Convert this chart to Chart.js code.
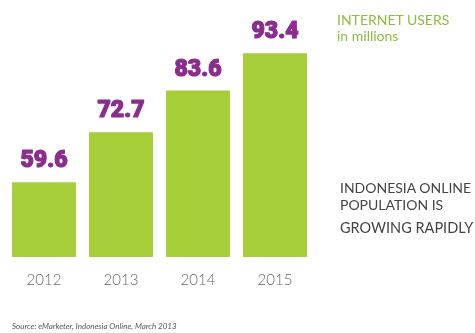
<!DOCTYPE html>
<html><head><meta charset="utf-8">
<script src="https://cdn.jsdelivr.net/npm/chart.js@4"></script>
<style>
html,body{margin:0;padding:0;background:#fff;}
#wrap{position:relative;width:475px;height:333px;overflow:hidden;}
canvas{position:absolute;left:0;top:0;}
.t{position:absolute;font-family:Lato,"Open Sans",sans-serif;white-space:nowrap;}
</style></head>
<body><div id="wrap">
<canvas id="c" width="475" height="333"></canvas>
<div class="t" style="left:337px;top:12px;font-size:14px;line-height:16px;color:#8cbd3f;">INTERNET USERS<br>in millions</div>
<div class="t" style="left:340px;top:180px;font-size:14px;line-height:16.5px;color:#444;">INDONESIA ONLINE<br>POPULATION IS</div>
<div class="t" style="left:340px;top:219px;font-size:14.5px;line-height:17px;color:#444;">GROWING RAPIDLY</div>
<div class="t" style="left:12px;top:321px;font-size:8px;font-style:italic;color:#555;">Source: eMarketer, Indonesia Online, March 2013</div>
</div>
<script>
const years = ["2012","2013","2014","2015"];
const users = [59.6, 72.7, 83.6, 93.4];
const valueLabels = ["59.6","72.7","83.6","93.4"];

const labelPlugin = {
  id:'vals',
  afterDatasetsDraw(chart){
    const ctx = chart.ctx;
    const meta = chart.getDatasetMeta(0);
    ctx.save();
    ctx.font = '900 23px Roboto, "DejaVu Sans", sans-serif';
    ctx.fillStyle = '#8b2d8f';
    ctx.strokeStyle = '#8b2d8f';
    ctx.lineWidth = 1.2;
    ctx.lineJoin = 'round';
    ctx.textAlign = 'center';
    ctx.textBaseline = 'alphabetic';
    meta.data.forEach((bar,i)=>{
      ctx.strokeText(valueLabels[i], bar.x, bar.y - 15);
      ctx.fillText(valueLabels[i], bar.x, bar.y - 15);
    });
    ctx.restore();
  }
};

new Chart(document.getElementById('c'), {
  type:'bar',
  data:{labels:years, datasets:[{data:users, backgroundColor:'#a6ce39', borderWidth:0, barPercentage:0.83, categoryPercentage:1}]},
  options:{
    responsive:false, animation:false,
    layout:{padding:{left:5.5,right:161.5,top:28,bottom:30}},
    plugins:{legend:{display:false}, tooltip:{enabled:false}},
    scales:{
      x:{grid:{display:false,drawTicks:false}, border:{display:false},
         ticks:{color:'#666',padding:14,font:{family:'Lato, "Open Sans", sans-serif',size:15,weight:'300'}}},
      y:{display:false,min:40,max:100}
    }
  },
  plugins:[labelPlugin]
});
</script>
</body></html>
